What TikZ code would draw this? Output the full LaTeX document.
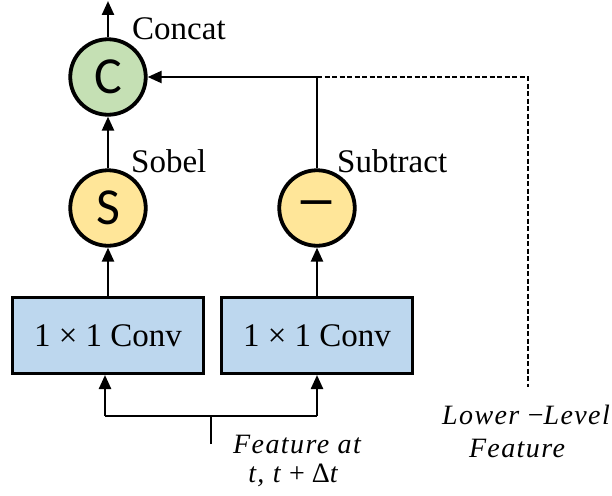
\documentclass[tikz,border=0pt]{standalone}
\usepackage{fontspec}
\setmainfont{Liberation Serif}
\newfontfamily\sansf{Carlito}
\newfontfamily\itf[LetterSpace=5]{Liberation Serif Italic}
\usetikzlibrary{arrows.meta}
\definecolor{cgreen}{RGB}{197,224,180}
\definecolor{cyellow}{RGB}{255,230,153}
\definecolor{convblue}{RGB}{189,215,238}
\begin{document}
\begin{tikzpicture}[x=1pt,y=-1pt,
  circ/.style={circle, draw, line width=3.8pt, minimum size=75.5pt, inner sep=0pt, font=\sansf\fontsize{52}{52}\selectfont},
  convbox/.style={draw, line width=3pt, fill=convblue, minimum width=191pt, minimum height=76pt, inner sep=0pt, font=\fontsize{33}{33}\selectfont},
  lbl/.style={font=\fontsize{33}{33}\selectfont, inner sep=0pt, anchor=base west},
  ilbl/.style={font=\itf\fontsize{28}{29}\selectfont, inner sep=0pt, anchor=base},
  conn/.style={line width=2.4pt},
  arr/.style={conn, -{Triangle[length=14pt,width=12pt]}},
]
\useasboundingbox (0,0) rectangle (612,495);
\node[circ, fill=cgreen] (C) at (108,77) {C};
\node[circ, fill=cyellow] (S) at (108,208) {S};
\node[circ, fill=cyellow] (M) at (317,208) {\bfseries\fontsize{42}{42}\selectfont —};
\node[convbox] (B1) at (108,335.5) {1 × 1 Conv};
\node[convbox] (B2) at (317,335.5) {1 × 1 Conv};

\coordinate (top) at (108,1);
\coordinate (J) at (317,77);
\coordinate (D) at (528,77);
\coordinate (Dend) at (528,387);
\coordinate (stem) at (211,444);
\coordinate (H) at (211,416);
\coordinate (HL) at (105,416);
\coordinate (HR) at (317,416);

\draw[arr] (C) -- (top);
\draw[arr] (S) -- (C);
\draw[arr] (B1) -- (S);
\draw[arr] (B2) -- (M);
\draw[conn] (M) -- (J);
\draw[arr] (J) -- (C);
\draw[conn, dash pattern=on 5pt off 2.5pt] (J) -- (D) -- (Dend);
\draw[conn] (stem) -- (H);
\draw[conn] (HL) -- (HR);
\draw[arr] (HL) -- (HL |- B1.south);
\draw[arr] (HR) -- (B2.south);

\node[lbl] (lconcat) at (132,40) {Concat};
\node[lbl] (lsobel) at (131,172) {Sobel};
\node[lbl] (lsub) at (337,172) {Subtract};
\node[ilbl] (feat1) at (297,453) {Feature at};
\node[ilbl] (feat2) at (293,482) {t, t {\normalfont + Δ}t};
\node[ilbl] (low1) at (526,424) {Lower {\normalfont −}Level};
\node[ilbl] (low2) at (517,457) {Feature};
\end{tikzpicture}
\end{document}
